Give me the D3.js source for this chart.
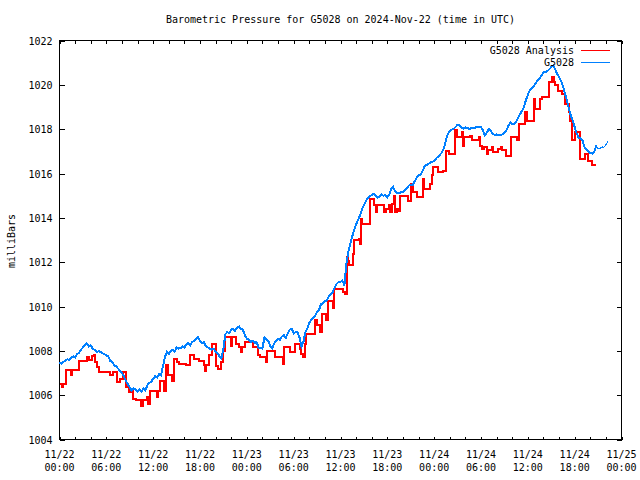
<!DOCTYPE html>
<html><head><meta charset="utf-8">
<script src="https://cdn.jsdelivr.net/npm/d3@7"></script>
<style>body{margin:0;background:#fff}svg{display:block}</style>
</head><body><svg id="c" width="640" height="480"></svg>
<script>
const title = "Barometric Pressure for G5028 on 2024-Nov-22 (time in UTC)";
const yLabel = "milliBars";
const seriesNames = ["G5028 Analysis", "G5028"];
const startTime = "2024-11-22T00:00:00Z";
const xDomainHours = [0, 72];
const yDomain = [1004, 1022];
const yTicks = [1004, 1006, 1008, 1010, 1012, 1014, 1016, 1018, 1020, 1022];
const xLabelHours = [0, 6, 12, 18, 24, 30, 36, 42, 48, 54, 60, 66, 72];
const xMinorHours = [0,2,4,6,8,10,12,14,16,18,20,22,24,26,28,30,32,34,36,38,40,42,44,46,48,50,52,54,56,58,60,62,64,66,68,70,72];

// Analysis (step) series: hours since start, value in mb
const analysisHours = [0,0.32,0.51,0.77,1.47,1.60,2.56,3.46,3.84,4.10,4.36,4.61,4.80,5.12,6.47,6.79,7.43,7.75,8.13,8.52,
8.84,9.10,9.42,9.86,10.50,10.70,11.15,11.34,11.59,12.49,12.62,12.87,13.39,13.64,13.90,14.35,14.67,14.99,15.37,16.27,
16.78,17.29,17.93,18.45,18.64,18.83,19.09,19.60,20.11,20.37,20.75,21.01,21.20,21.91,22.10,22.61,23.06,23.25,23.38,23.76,
24.85,25.37,25.69,26.45,26.58,27.61,28.57,28.70,29.53,30.17,30.81,31.00,31.19,31.45,31.64,32.67,32.99,33.38,33.57,34.20,
34.40,35.04,35.23,36.38,36.64,36.77,36.93,37.06,37.60,37.70,38.34,38.56,38.65,38.78,39.75,40.23,40.55,40.67,41.51,41.83,
42.15,42.40,42.60,42.79,42.98,43.24,43.47,43.68,44.71,44.97,45.35,45.80,46.63,46.76,47.46,47.72,47.91,48.55,49.19,49.58,
49.96,50.73,50.92,51.56,51.69,51.82,52.65,52.84,53.68,53.93,54.13,54.38,54.77,54.96,55.41,55.60,56.24,56.50,56.69,57.14,
57.78,58.61,58.84,59.70,59.89,60.76,60.98,61.62,61.81,62.68,63.09,63.32,63.54,63.84,64.37,64.82,65.25,65.46,65.68,66.10,
66.68,67.38,67.77,68.28,68.75];
const analysisValues = [1006.51,1006.36,1006.51,1007.14,1006.90,1007.14,1007.56,1007.70,1007.60,1007.75,1007.79,1007.48,1007.26,1007.04,1006.89,1007.04,1006.58,1006.75,1007.04,1006.36,
1006.13,1006.21,1005.83,1005.76,1005.49,1005.76,1005.91,1005.61,1006.21,1005.91,1006.21,1006.66,1006.21,1007.34,1006.89,1006.66,1007.64,1007.48,1007.41,1007.34,
1007.79,1007.64,1007.56,1007.34,1007.10,1007.34,1007.79,1008.30,1007.30,1007.20,1007.48,1008.00,1008.61,1008.24,1008.61,1008.30,1008.16,1007.94,1008.16,1008.39,
1008.16,1007.79,1007.71,1007.49,1008.01,1007.71,1007.41,1008.16,1007.94,1008.30,1008.10,1007.84,1007.71,1008.30,1008.77,1009.37,1009.15,1008.84,1009.67,1009.37,
1010.27,1009.95,1010.80,1010.64,1010.57,1012.22,1012.07,1011.85,1012.38,1012.98,1013.03,1012.83,1013.95,1013.73,1014.86,1014.56,1014.25,1014.56,1014.25,1014.40,
1014.56,1014.25,1014.63,1015.00,1014.25,1014.40,1014.33,1015.00,1014.78,1015.53,1015.16,1014.96,1015.76,1015.31,1015.53,1015.91,1016.28,1016.06,1016.13,1017.03,
1016.89,1017.94,1017.64,1017.86,1017.26,1017.64,1017.71,1017.49,1017.64,1017.26,1017.11,1017.18,1016.89,1017.04,1017.18,1016.96,1017.11,1017.18,1017.04,1016.81,
1017.64,1017.49,1018.24,1018.76,1018.39,1019.37,1018.92,1019.37,1019.44,1020.12,1020.34,1020.12,1019.97,1019.74,1019.59,1019.14,1018.76,1018.39,1017.52,1017.86,
1016.66,1016.89,1016.58,1016.40,1016.40];

// Observed series: one value every 15 minutes from start
const obsStepMinutes = 15;
const obsValues = [1007.48,1007.42,1007.50,1007.55,1007.62,1007.58,1007.70,1007.75,1007.70,1007.85,
1007.90,1008.05,1008.15,1008.25,1008.34,1008.20,1008.25,1008.10,1008.05,1007.95,
1007.98,1007.96,
1007.90,1007.85,1007.80,1007.75,1007.55,1007.50,1007.35,1007.30,1007.20,
1007.10,1007.00,1006.85,1006.65,1006.50,1006.35,1006.20,1006.30,1006.25,1006.15,
1006.25,1006.15,1006.30,1006.20,1006.45,1006.55,1006.60,1006.75,1006.85,1006.80,
1006.95,1006.90,1007.30,1007.70,1007.95,1007.85,1008.00,1008.05,1007.95,1008.15,
1008.10,1008.12,
1008.20,1008.15,1008.30,1008.35,1008.25,1008.40,1008.45,1008.55,1008.62,
1008.45,1008.35,1008.40,1008.20,1008.15,1008.10,1008.05,1008.10,1007.95,1007.90,
1007.75,1007.65,1008.10,1008.75,1008.85,1008.80,1008.95,1009.00,1008.90,1009.05,
1009.10,1009.00,1008.95,1008.70,1008.55,1008.50,1008.40,1008.45,1008.35,1008.40,
1008.15,1008.12,
1008.10,1008.60,1008.50,1008.45,1008.20,1008.10,1008.33,1008.45,1008.55,
1008.50,1008.65,1008.70,1008.60,1008.80,1008.95,1009.00,1008.78,1008.85,1008.84,
1008.60,1008.20,1008.40,1008.84,1009.00,1009.25,1009.40,1009.50,1009.59,1009.75,
1009.85,1010.10,1010.15,1010.25,1010.27,1010.45,1010.55,1010.65,1010.85,1011.02,
1011.10,1011.12,
1011.17,1010.95,1011.90,1012.45,1012.82,1013.15,1013.45,1013.70,1013.90,
1014.12,1014.38,1014.58,1014.75,1014.90,1014.98,1015.02,1015.08,1015.00,1014.90,
1014.95,1015.05,1015.00,1015.02,1014.93,1015.05,1015.30,1015.39,1015.20,1015.12,
1015.10,1015.15,1015.16,1015.25,1015.32,1015.45,1015.50,1015.48,1015.65,1015.80,
1015.92,1015.95,
1016.10,1016.30,1016.38,1016.42,1016.50,1016.52,1016.56,1016.68,1016.76,
1016.85,1016.95,1017.15,1017.50,1017.78,1017.90,1017.98,1018.02,1018.10,1018.20,
1018.18,1018.05,1018.02,1018.08,1018.06,1018.00,1018.06,1018.04,1018.05,1018.12,
1018.08,1018.10,1017.95,1017.72,1017.85,1018.00,1017.92,1017.78,1017.74,1017.76,
1017.72,1017.74,
1017.76,1017.85,1017.94,1018.15,1018.30,1018.22,1018.24,1018.32,1018.52,
1018.68,1018.82,1018.99,1019.30,1019.55,1019.75,1019.85,1019.95,1020.05,1020.20,
1020.30,1020.42,1020.57,1020.58,1020.62,1020.70,1020.80,1020.87,1020.70,1020.50,
1020.35,1020.18,1019.95,1019.62,1019.30,1018.95,1018.62,1018.39,1018.09,1017.82,
1017.62,1017.58,
1017.50,1017.20,1017.10,1016.98,1016.92,1016.90,1016.95,1017.26];
// Latest observations (drawn thin), continuing the 15-minute index
const obsTailStartIndex = 275;
const obsTailValues = [1017.26,1017.11,1017.14,1017.20,1017.18,1017.30,1017.45];

const colors = {analysis: "#ff0000", obs: "#0080ff"};
const font = "'DejaVu Sans Mono', 'Liberation Mono', monospace";

const t0 = new Date(startTime);
const hToDate = h => new Date(t0.getTime() + h * 3600000);
const W = 640, H = 480;
const m = {left: 59.5, right: 621.5, top: 40.5, bottom: 439.5};

const x = d3.scaleUtc().domain(xDomainHours.map(hToDate)).range([m.left, m.right]);
const y = d3.scaleLinear().domain(yDomain).range([m.bottom, m.top]);

const svg = d3.select("#c").attr("font-family", font).attr("font-size", 10);
svg.append("rect").attr("width", W).attr("height", H).attr("fill", "#fff");

// axes (ticks inward, mirrored)
const gB = svg.append("g").attr("transform", `translate(0,${m.bottom})`)
  .call(d3.axisBottom(x).tickValues(xMinorHours.map(hToDate)).tickSizeInner(-3).tickSizeOuter(0).tickFormat(""));
const gT = svg.append("g").attr("transform", `translate(0,${m.top})`)
  .call(d3.axisTop(x).tickValues(xMinorHours.map(hToDate)).tickSizeInner(-3).tickSizeOuter(0).tickFormat(""));
const gL = svg.append("g").attr("transform", `translate(${m.left},0)`)
  .call(d3.axisLeft(y).tickValues(yTicks).tickSizeInner(-5).tickSizeOuter(0).tickPadding(7).tickFormat(d3.format("d")));
const gR = svg.append("g").attr("transform", `translate(${m.right},0)`)
  .call(d3.axisRight(y).tickValues(yTicks).tickSizeInner(-5).tickSizeOuter(0).tickFormat(""));
[gB, gT, gL, gR].forEach(g => {
  g.select(".domain").remove();
  g.selectAll("line").attr("stroke", "#000").attr("shape-rendering", "crispEdges");
  g.selectAll("text").attr("font-family", font).attr("font-size", 10).attr("fill", "#000");
});
gL.selectAll("text").attr("dy", "0.35em");

// x tick labels (two lines)
const fmtD = d3.utcFormat("%m/%d"), fmtT = d3.utcFormat("%H:%M");
const xl = svg.append("g");
xLabelHours.forEach(h => {
  const d = hToDate(h);
  const t = xl.append("text").attr("x", x(d)).attr("y", 458).attr("text-anchor", "middle").attr("fill", "#000");
  t.append("tspan").attr("x", x(d)).text(fmtD(d));
  t.append("tspan").attr("x", x(d)).attr("dy", 13).text(fmtT(d));
});

// frame
svg.append("rect").attr("x", m.left).attr("y", m.top).attr("width", m.right - m.left).attr("height", m.bottom - m.top)
  .attr("fill", "none").attr("stroke", "#000").attr("shape-rendering", "crispEdges");

// data
const analysis = analysisHours.map((h, i) => ({d: hToDate(h), v: analysisValues[i]}));
const obs = obsValues.map((v, i) => ({d: hToDate(i * obsStepMinutes / 60), v}));
const tail = obsTailValues.map((v, i) => ({d: hToDate((obsTailStartIndex + i) * obsStepMinutes / 60), v}));

const stepLine = d3.line().x(p => x(p.d)).y(p => y(p.v)).curve(d3.curveStepAfter);
const line = d3.line().x(p => x(p.d)).y(p => y(p.v));

svg.append("path").datum(analysis).attr("d", stepLine).attr("fill", "none")
  .attr("stroke", colors.analysis).attr("stroke-width", 2).attr("shape-rendering", "crispEdges");
svg.append("path").datum(obs).attr("d", line).attr("fill", "none")
  .attr("stroke", colors.obs).attr("stroke-width", 2).attr("shape-rendering", "crispEdges");
svg.append("path").datum(tail).attr("d", line).attr("fill", "none")
  .attr("stroke", colors.obs).attr("stroke-width", 1).attr("shape-rendering", "crispEdges");

// title + y label
svg.append("text").attr("x", (m.left + m.right) / 2).attr("y", 23).attr("text-anchor", "middle").attr("fill", "#000").text(title);
svg.append("text").attr("transform", "translate(15,241) rotate(-90)").attr("text-anchor", "middle").attr("fill", "#000").text(yLabel);

// legend
const legend = [{name: seriesNames[0], color: colors.analysis, y: 50}, {name: seriesNames[1], color: colors.obs, y: 62.5}];
const lg = svg.append("g");
legend.forEach(e => {
  lg.append("text").attr("x", 574).attr("y", e.y).attr("dy", "0.35em").attr("text-anchor", "end").attr("fill", "#000").text(e.name);
  lg.append("line").attr("x1", 581).attr("x2", 610).attr("y1", e.y).attr("y2", e.y)
    .attr("stroke", e.color).attr("stroke-width", 1).attr("shape-rendering", "crispEdges");
});
</script>
</body></html>
